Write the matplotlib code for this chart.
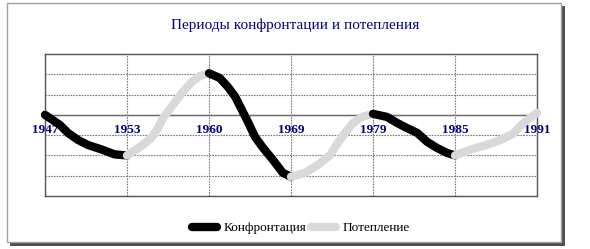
import matplotlib
matplotlib.use('Agg')
import matplotlib.pyplot as plt
from matplotlib.lines import Line2D
from matplotlib.patches import Rectangle

# category labels (equally spaced on the axis)
years = ['1947', '1953', '1960', '1969', '1979', '1985', '1991']

# curve pieces, x = category position, y = value
conf1_x = [0.0, 0.18, 0.28, 0.40, 0.52, 0.70, 0.85, 1.0]
conf1_y = [0.0, -0.49, -0.89, -1.23, -1.48, -1.72, -1.95, -2.0]
warm1_x = [1.0, 1.16, 1.30, 1.38, 1.44, 1.56, 1.68, 1.79, 1.89, 2.0]
warm1_y = [-2.0, -1.58, -1.13, -0.64, -0.15, 0.49, 1.13, 1.63, 1.92, 2.05]
conf2_x = [2.0, 2.13, 2.23, 2.32, 2.40, 2.48, 2.56, 2.66, 2.78, 2.90, 3.0]
conf2_y = [2.05, 1.82, 1.38, 0.89, 0.25, -0.39, -1.08, -1.63, -2.22, -2.86, -3.05]
warm2_x = [3.0, 3.17, 3.33, 3.48, 3.57, 3.66, 3.76, 3.87, 4.0]
warm2_y = [-3.05, -2.86, -2.46, -1.97, -1.38, -0.89, -0.39, -0.1, 0.05]
conf3_x = [4.0, 4.17, 4.29, 4.41, 4.54, 4.66, 4.78, 4.90, 5.0]
conf3_y = [0.05, -0.1, -0.39, -0.64, -0.89, -1.33, -1.63, -1.87, -2.0]
warm3_x = [5.0, 5.2, 5.37, 5.52, 5.70, 5.85, 6.0]
warm3_y = [-2.0, -1.7, -1.5, -1.3, -0.95, -0.35, 0.1]

title = 'Периоды конфронтации и потепления'
labels = ['Конфронтация', 'Потепление']
c_conf = '#000000'
c_warm = '#d9d9d9'
navy = '#000080'

plt.rcParams['font.family'] = ['Liberation Serif', 'DejaVu Serif']

W, H = 590, 249
fig = plt.figure(figsize=(W / 100, H / 100), dpi=100)

# frame with drop shadow
def px_rect(x0, y0, x1, y1, **kw):
    return Rectangle((x0 / W, 1 - y1 / H), (x1 - x0) / W, (y1 - y0) / H,
                     transform=fig.transFigure, **kw)

fig.patches.append(px_rect(10, 6, 565, 246, facecolor='#505050', edgecolor='none', zorder=-3))
fig.patches.append(px_rect(7, 3, 561, 242, facecolor='white', edgecolor='#a0a0a0', lw=1, zorder=-2))

ax = fig.add_axes([45 / W, 1 - 196 / H, (537 - 45) / W, (196 - 54) / H])
ax.set_zorder(2)
ax.set_facecolor('none')
ax.set_xlim(0, len(years) - 1)
ax.set_ylim(-4, 3)
ax.set_xticks(range(len(years)))
ax.set_yticks(range(-4, 4))
ax.tick_params(length=0, labelbottom=False, labelleft=False)
ax.grid(True, color='#7a7a7a', linestyle=(0, (1.5, 1)), linewidth=0.8)
for s in ax.spines.values():
    s.set_color('#555555')
    s.set_linewidth(1.0)
ax.axhline(0, color='#555555', lw=1.0, zorder=1.5)

for i, yr in enumerate(years):
    ax.annotate(yr, (i, 0), xytext=(0, -6.5), textcoords='offset points',
                ha='center', va='top', fontsize=9.5, fontweight='bold',
                color=navy, zorder=2)

kw = dict(lw=6, solid_capstyle='round', solid_joinstyle='round', zorder=3, clip_on=False)
for xs, ys, c in [(conf1_x, conf1_y, c_conf), (warm1_x, warm1_y, c_warm),
                  (conf2_x, conf2_y, c_conf), (warm2_x, warm2_y, c_warm),
                  (conf3_x, conf3_y, c_conf), (warm3_x, warm3_y, c_warm)]:
    ax.plot(xs, ys, color=c, **kw)

fig.text(295 / W, 1 - 25 / H, title, ha='center', va='center',
         fontsize=11, color=navy)

handles = [Line2D([], [], color=c_conf, lw=6, solid_capstyle='round'),
           Line2D([], [], color=c_warm, lw=6, solid_capstyle='round')]
fig.legend(handles, labels, loc='center', bbox_to_anchor=(301 / W, 1 - 228 / H),
           ncol=2, frameon=False, fontsize=9.5, handlelength=1.9,
           handletextpad=0.5, columnspacing=0.3)

fig.savefig('out.png', dpi=100)
